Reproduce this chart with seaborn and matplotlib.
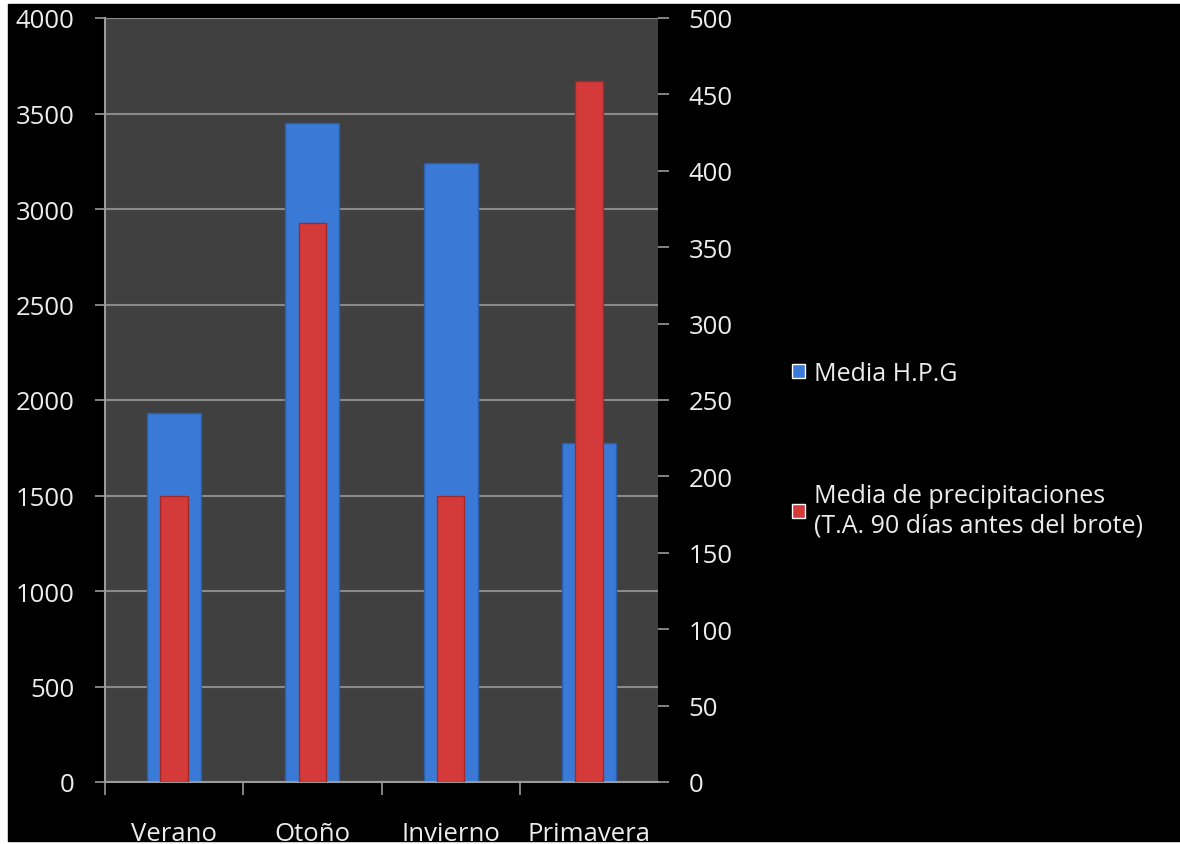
import seaborn as sns
import matplotlib.pyplot as plt
from matplotlib.patches import Patch, Rectangle
import numpy as np

estaciones = ['Verano', 'Otoño', 'Invierno', 'Primavera']
media_hpg = [1930, 3450, 3240, 1775]
media_precip = [187, 366, 187, 459]

azul = '#3a7ad6'
rojo = '#d43a3a'
texto = '#ececec'

sns.set_style('dark')
plt.rcParams['font.family'] = ['Open Sans', 'DejaVu Sans']

fig = plt.figure(figsize=(11.8, 8.45), dpi=100, facecolor='white')
# fondo negro con borde blanco fino arriba y a la izquierda
fig.patches.append(Rectangle((8 / 1180, 0.003), 1, 1 - 5 / 845 - 0.003,
                             transform=fig.transFigure, color='black', zorder=-10))

ax = fig.add_axes([105 / 1180, 1 - 783 / 845, 553 / 1180, 764 / 845])
ax.set_facecolor('#404040')
ax.set_axisbelow(True)

sns.barplot(x=estaciones, y=media_hpg, ax=ax, color=azul, width=0.39,
            saturation=1, edgecolor='#2a5ea8', linewidth=1)
ax.set_ylim(0, 4000)
ax.set_yticks(np.arange(0, 4001, 500))
ax.yaxis.grid(True, color='#8a8a8a', linewidth=1.5)
ax.xaxis.grid(False)

ax2 = ax.twinx()
sns.barplot(x=estaciones, y=media_precip, ax=ax2, color=rojo, width=0.2,
            saturation=1, edgecolor='#a02a2a', linewidth=1)
ax2.set_ylim(0, 500)
ax2.set_yticks(np.arange(0, 501, 50))
ax2.grid(False)
ax2.set_facecolor('none')
ax.set_xlim(-0.5, 3.5)

for a in (ax, ax2):
    for s in a.spines.values():
        s.set_visible(False)
ax.spines['left'].set_visible(True)
ax.spines['left'].set_color('#9a9a9a')
ax.spines['left'].set_linewidth(1.5)
ax.spines['bottom'].set_visible(True)
ax.spines['bottom'].set_color('#9a9a9a')
ax.spines['bottom'].set_linewidth(1.5)

ax.tick_params(axis='y', colors='#9a9a9a', labelcolor=texto, labelsize=18.5,
               length=7, width=1.2, direction='out', pad=15, left=True)
ax2.tick_params(axis='y', colors='#9a9a9a', labelcolor=texto, labelsize=18.5,
                length=8, width=1.2, direction='out', pad=14, right=True)

# etiquetas en el centro, marcas en los límites de categoría
ax.set_xticks(range(len(estaciones)))
ax.set_xticklabels(estaciones)
ax.set_xticks(np.arange(-0.5, 3.0, 1), minor=True)
ax.tick_params(axis='x', which='major', length=0, pad=28, labelsize=18.5, labelcolor=texto)
ax.tick_params(axis='x', which='minor', length=9, width=1.2, color='#9a9a9a',
               direction='out', bottom=True)
ax.set_xlabel('')
ax.set_ylabel('')
ax2.set_ylabel('')

handles = [Patch(facecolor=azul, label='Media H.P.G'),
           Patch(facecolor=rojo, label='Media de precipitaciones\n(T.A. 90 días antes del brote)')]
fig.legend(handles=handles, loc='center left', bbox_to_anchor=(792 / 1180, 1 - 450 / 845),
           frameon=False, fontsize=18, labelcolor=texto, handlelength=0.5,
           handleheight=0.5, handletextpad=0.4, labelspacing=3.9, borderpad=0,
           borderaxespad=0)

fig.savefig('out.png', dpi=100, facecolor=fig.get_facecolor())
